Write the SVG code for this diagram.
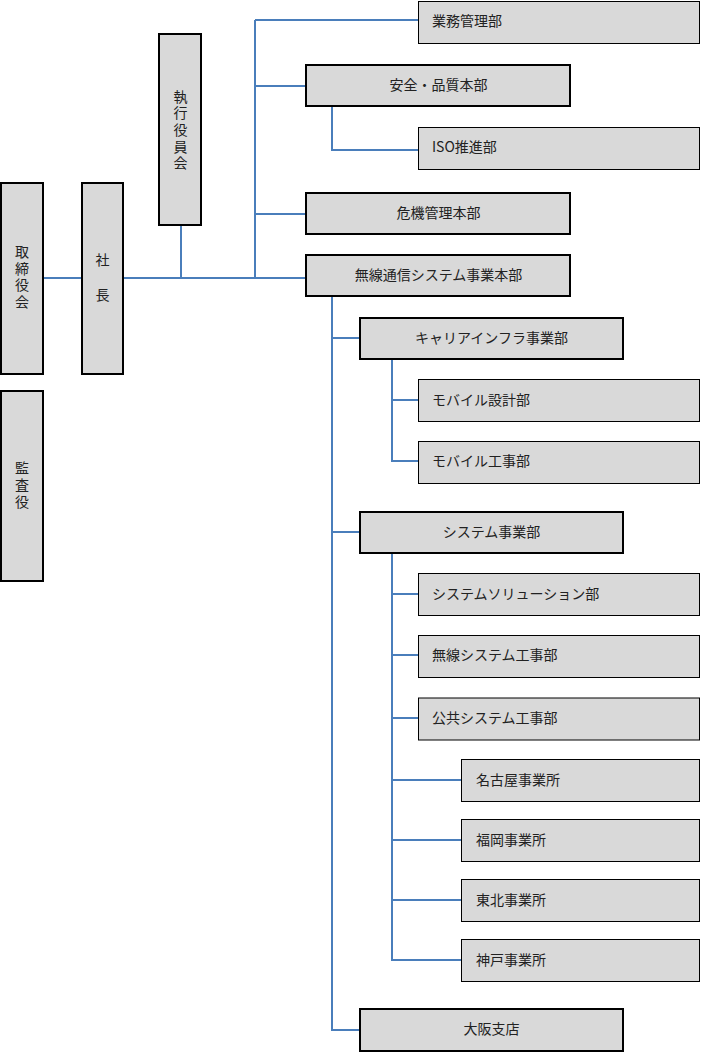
<svg xmlns="http://www.w3.org/2000/svg" width="701" height="1053" viewBox="0 0 701 1053">
<style>
.thick{fill:#d9d9d9;stroke:#000;stroke-width:2}
.thin{fill:#d9d9d9;stroke:#000;stroke-width:1}
.conn{fill:none;stroke:#4a7ebb;stroke-width:2}
text{font-family:"Noto Sans CJK JP","Noto Sans",sans-serif;font-size:14px;fill:#222;dominant-baseline:central}
.c{text-anchor:middle}
.l{text-anchor:start}
.v{writing-mode:vertical-rl;text-anchor:middle;letter-spacing:2.7px}
</style>
<rect width="701" height="1053" fill="#fff"/>
<g id="connectors" class="conn">
<path d="M44,278H82"/>
<path d="M123,278H306"/>
<path d="M181,225V278"/>
<path d="M255,20V278"/>
<path d="M255,20H418"/>
<path d="M255,86H306"/>
<path d="M255,214H306"/>
<path d="M332,106V150H418"/>
<path d="M332,296V1030H360"/>
<path d="M332,338H360"/>
<path d="M332,532H360"/>
<path d="M392,359V461H418"/>
<path d="M392,400H418"/>
<path d="M392,553V960H461"/>
<path d="M392,594H418"/>
<path d="M392,655H418"/>
<path d="M392,718H418"/>
<path d="M392,780H461"/>
<path d="M392,840H461"/>
<path d="M392,900H461"/>
</g>
<g id="torishimariyakukai"><rect class="thick" x="1" y="183" width="42" height="191"/>
<text class="v" x="22" y="278">取締役会</text></g>
<g id="kansayaku"><rect class="thick" x="1" y="391" width="42" height="190"/>
<text class="v" x="22" y="486">監査役</text></g>
<g id="shacho"><rect class="thick" x="82" y="183" width="41" height="191"/>
<text class="v" x="102.5" y="288" style="letter-spacing:21px">社長</text></g>
<g id="shikkoyakuinkai"><rect class="thick" x="159" y="34" width="42" height="191"/>
<text class="v" x="180.5" y="131">執行役員会</text></g>
<g id="gyomukanri"><rect class="thin" x="418.5" y="1.5" width="281" height="42"/><text class="l" x="432" y="20">業務管理部</text></g>
<g id="anzen"><rect class="thick" x="306" y="65" width="264" height="41"/><text class="c" x="438.5" y="84">安全・品質本部</text></g>
<g id="iso"><rect class="thin" x="418.5" y="127.5" width="281" height="42"/><text class="l" x="432" y="146">ISO推進部</text></g>
<g id="kiki"><rect class="thick" x="306" y="193" width="264" height="41"/><text class="c" x="438.5" y="212">危機管理本部</text></g>
<g id="musen"><rect class="thick" x="306" y="255" width="264" height="41"/><text class="c" x="438.5" y="274">無線通信システム事業本部</text></g>
<g id="carrier"><rect class="thick" x="360" y="318" width="263" height="41"/><text class="c" x="491.5" y="337">キャリアインフラ事業部</text></g>
<g id="mobile-sekkei"><rect class="thin" x="418.5" y="379.5" width="281" height="42"/><text class="l" x="432" y="399">モバイル設計部</text></g>
<g id="mobile-koji"><rect class="thin" x="418.5" y="441.5" width="281" height="42"/><text class="l" x="432" y="460">モバイル工事部</text></g>
<g id="system"><rect class="thick" x="360" y="512" width="263" height="41"/><text class="c" x="491.5" y="531">システム事業部</text></g>
<g id="solution"><rect class="thin" x="418.5" y="573.5" width="281" height="42"/><text class="l" x="432" y="593">システムソリューション部</text></g>
<g id="musen-koji"><rect class="thin" x="418.5" y="635.5" width="281" height="42"/><text class="l" x="432" y="654">無線システム工事部</text></g>
<g id="kokyo-koji"><rect class="thin" x="418.5" y="698" width="281" height="42"/><text class="l" x="432" y="717">公共システム工事部</text></g>
<g id="nagoya"><rect class="thin" x="461.5" y="759.5" width="238" height="42"/><text class="l" x="476" y="779">名古屋事業所</text></g>
<g id="fukuoka"><rect class="thin" x="461.5" y="819.5" width="238" height="42"/><text class="l" x="476" y="839">福岡事業所</text></g>
<g id="tohoku"><rect class="thin" x="461.5" y="879.5" width="238" height="42"/><text class="l" x="476" y="899">東北事業所</text></g>
<g id="kobe"><rect class="thin" x="461.5" y="939.5" width="238" height="42"/><text class="l" x="476" y="959">神戸事業所</text></g>
<g id="osaka"><rect class="thick" x="360" y="1009" width="263" height="42"/><text class="c" x="491.5" y="1028">大阪支店</text></g>
</svg>
